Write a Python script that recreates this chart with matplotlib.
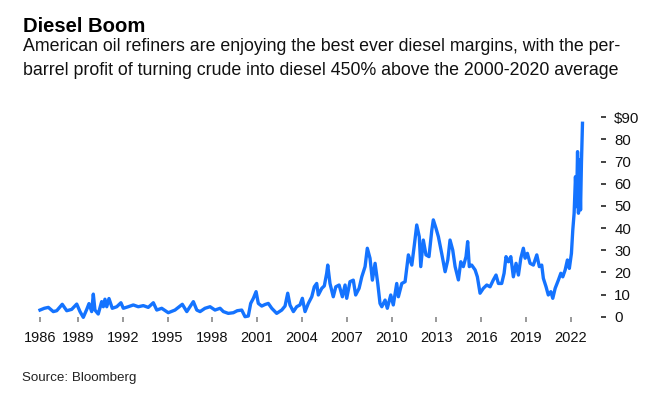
import matplotlib
matplotlib.use("Agg")
import matplotlib.pyplot as plt

plt.rcParams['font.family'] = ['Liberation Sans', 'DejaVu Sans']

# diesel crack spread, $ per barrel
years = [1986.46, 1986.75, 1987.02, 1987.35, 1987.58, 1987.95, 1988.25, 1988.58, 1988.92,
         1989.14, 1989.36, 1989.59, 1989.74, 1989.92, 1990.03, 1990.14, 1990.36, 1990.59,
         1990.70, 1990.81, 1990.93, 1991.08, 1991.30, 1991.60, 1991.88, 1992.04, 1992.37,
         1992.71, 1993.04, 1993.38, 1993.71, 1994.05, 1994.28, 1994.61, 1995.05, 1995.50,
         1995.99, 1996.29, 1996.73, 1996.96, 1997.18, 1997.51, 1997.85, 1998.18, 1998.52,
         1998.74, 1999.07, 1999.41, 1999.67, 1999.97, 2000.19, 2000.41, 2000.57, 2000.75,
         2000.93, 2001.08, 2001.31, 2001.53, 2001.75, 2001.98, 2002.31, 2002.65, 2002.87,
         2003.05, 2003.20, 2003.43, 2003.65, 2003.87, 2004.03, 2004.21, 2004.43, 2004.66,
         2004.83, 2004.99, 2005.10, 2005.33, 2005.50, 2005.66, 2005.73, 2005.88, 2006.10,
         2006.27, 2006.49, 2006.71, 2006.89, 2007.00, 2007.22, 2007.44, 2007.60, 2007.83,
         2008.01, 2008.23, 2008.38, 2008.56, 2008.72, 2008.90, 2009.08, 2009.23, 2009.35,
         2009.57, 2009.72, 2009.95, 2010.12, 2010.35, 2010.46, 2010.69, 2010.91, 2011.13,
         2011.36, 2011.53, 2011.69, 2011.86, 2011.96, 2012.13, 2012.31, 2012.51, 2012.70,
         2012.80, 2012.98, 2013.14, 2013.36, 2013.59, 2013.77, 2013.92, 2014.10, 2014.26,
         2014.48, 2014.64, 2014.81, 2014.99, 2015.10, 2015.21, 2015.37, 2015.60, 2015.75,
         2015.93, 2016.15, 2016.38, 2016.60, 2016.82, 2017.00, 2017.16, 2017.38, 2017.54,
         2017.67, 2017.83, 2017.99, 2018.16, 2018.34, 2018.50, 2018.66, 2018.83, 2018.95,
         2019.10, 2019.28, 2019.50, 2019.73, 2019.90, 2020.06, 2020.17, 2020.35, 2020.50,
         2020.67, 2020.80, 2020.96, 2021.18, 2021.34, 2021.47, 2021.63, 2021.78, 2021.91,
         2022.05, 2022.14, 2022.23, 2022.32, 2022.39, 2022.46, 2022.52, 2022.59, 2022.66,
         2022.72, 2022.79]
margin = [3.0, 3.8, 4.2, 2.3, 2.7, 5.6, 2.7, 3.3, 5.7,
          2.3, -0.3, 3.3, 5.9, 2.3, 10.2, 3.0, 1.2, 6.8,
          4.5, 7.9, 4.5, 8.2, 3.8, 4.5, 6.3, 3.8, 4.5,
          5.3, 4.5, 5.0, 4.2, 6.3, 3.0, 3.8, 1.8, 3.0,
          5.6, 2.3, 6.8, 3.0, 2.3, 3.8, 4.5, 3.0, 3.8,
          2.3, 1.5, 1.8, 2.7, 3.0, 0.0, 0.3, 6.0, 8.3,
          11.3, 6.0, 4.8, 5.5, 6.0, 3.8, 1.5, 3.0, 4.8,
          10.6, 5.3, 2.3, 4.5, 5.3, 8.3, 2.3, 6.0, 9.0,
          13.5, 15.0, 9.8, 12.8, 13.9, 19.6, 23.3, 15.0, 9.0,
          13.5, 14.3, 9.0, 14.3, 8.3, 15.8, 16.5, 9.8, 12.8,
          18.0, 22.6, 30.9, 26.4, 16.5, 24.1, 15.0, 6.0, 4.5,
          7.5, 3.8, 9.8, 5.3, 15.0, 9.0, 15.0, 15.8, 27.9,
          23.3, 32.4, 41.4, 36.1, 22.6, 34.6, 27.9, 27.1, 39.1,
          43.7, 39.9, 36.1, 28.6, 20.3, 25.6, 34.6, 30.1, 22.6,
          16.6, 24.8, 22.6, 27.1, 33.9, 22.6, 23.3, 21.1, 18.0,
          10.6, 12.8, 14.3, 13.5, 16.6, 18.8, 15.0, 15.0, 19.6,
          27.1, 24.8, 27.1, 18.0, 24.1, 18.8, 26.4, 30.9, 26.4,
          28.6, 24.1, 23.3, 27.9, 22.6, 23.3, 17.3, 13.5, 9.8,
          11.3, 8.3, 12.8, 16.6, 19.6, 18.0, 21.1, 25.6, 21.8,
          28.6, 39.1, 46.7, 63.2, 49.7, 74.5, 46.7, 70.7, 48.2,
          69.3, 87.3]

xtick_pos = [1986.46, 1989, 1992, 1995, 1998, 2001, 2004, 2007, 2010, 2013, 2016, 2019, 2022]
xtick_labels = ['1986', '1989', '1992', '1995', '1998', '2001', '2004', '2007', '2010',
                '2013', '2016', '2019', '2022']
ytick_pos = [0, 10, 20, 30, 40, 50, 60, 70, 80, 90]
ytick_labels = ['0', '10', '20', '30', '40', '50', '60', '70', '80', '$90']

W, H = 663, 397
fig = plt.figure(figsize=(W / 100, H / 100), dpi=100)
ax = fig.add_axes([40 / W, (H - 316.7) / H, 561 / W, 199.4 / H])

ax.plot(years, margin, color='#1473ff', lw=2.4, clip_on=False, solid_joinstyle='round')

ax.set_xlim(1986.46, 2024.03)
ax.set_ylim(0, 90)
for s in ax.spines.values():
    s.set_visible(False)

ax.set_xticks(xtick_pos)
ax.set_xticklabels(xtick_labels)
ax.tick_params(axis='x', direction='out', length=3.6, width=1.2, color='#888888',
               pad=6.5, labelsize=10.5, labelcolor='#111111')
ax.yaxis.tick_right()
ax.set_yticks(ytick_pos)
ax.set_yticklabels(ytick_labels)
ax.tick_params(axis='y', direction='out', length=3.6, width=1.2, color='#222222',
               pad=6, labelsize=10.8, labelcolor='#111111')

fig.text(23 / W, 1 - 31.7 / H, 'Diesel Boom', fontsize=14.6, fontweight='bold', color='black')
fig.text(23 / W, 1 - 51 / H,
         'American oil refiners are enjoying the best ever diesel margins, with the per-',
         fontsize=12.8, color='#111111')
fig.text(23 / W, 1 - 75 / H,
         'barrel profit of turning crude into diesel 450% above the 2000-2020 average',
         fontsize=12.8, color='#111111')
fig.text(22 / W, 1 - 381 / H, 'Source: Bloomberg', fontsize=9.6, color='#222222')

fig.savefig('out.png', dpi=100)
